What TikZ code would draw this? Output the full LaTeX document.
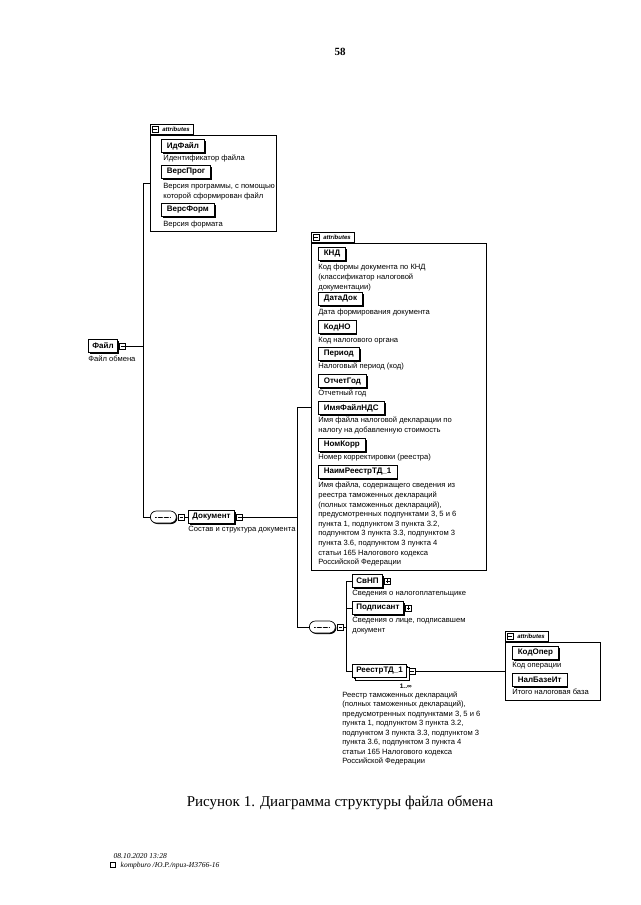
\documentclass[tikz,border=0pt]{standalone}
\usepackage{fontspec}
\setmainfont{Liberation Serif}
\setsansfont{Liberation Sans}
\usetikzlibrary{positioning,shadows,shapes.misc,calc}

\tikzset{
  elem/.style={draw, fill=white, anchor=west, font=\sffamily\bfseries\fontsize{8}{8}\selectfont,
    inner xsep=4pt, inner ysep=0pt, minimum height=13pt,
    general shadow={fill=black, shadow xshift=1.3pt, shadow yshift=-1.3pt}},
  attr/.style={elem, inner xsep=5.5pt},
  manyelem/.style={elem, copy shadow={shadow xshift=2.6pt, shadow yshift=-2.6pt}},
  note/.style={anchor=north west, font=\sffamily\fontsize{7.6}{10}\selectfont, align=left, inner sep=0pt},
  attrbox/.style={draw, fill=white, anchor=north west, inner sep=0pt,
    general shadow={fill=black, shadow xshift=0.8pt, shadow yshift=-0.8pt}},
  attrtab/.style={draw, fill=white, anchor=south west, font=\sffamily\bfseries\itshape\fontsize{6}{6}\selectfont,
    inner xsep=4pt, inner ysep=0pt, minimum height=10pt},
  minusbox/.style={draw, fill=white, minimum size=6pt, inner sep=0pt,
    path picture={\draw ([xshift=1.2pt]path picture bounding box.west) -- ([xshift=-1.2pt]path picture bounding box.east);}},
  plusbox/.style={draw, fill=white, minimum size=6pt, inner sep=0pt,
    path picture={\draw ([xshift=1.2pt]path picture bounding box.west) -- ([xshift=-1.2pt]path picture bounding box.east);
      \draw ([yshift=1.2pt]path picture bounding box.south) -- ([yshift=-1.2pt]path picture bounding box.north);}},
  seqbox/.style={rounded rectangle, draw, fill=white, anchor=west, minimum width=26pt, minimum height=12pt, inner sep=0pt,
    general shadow={fill=black, shadow xshift=1pt, shadow yshift=-1pt},
    path picture={\draw ([xshift=-8pt]path picture bounding box.center) -- ([xshift=8pt]path picture bounding box.center);
      \foreach \d in {-6,0,6} \fill ([xshift=\d pt]path picture bounding box.center) circle (0.9pt);}},
}

\begin{document}
\begin{tikzpicture}[x=1pt, y=-1pt, line width=0.7pt]
  \fill[white] (0,0) rectangle (640,905);
  \useasboundingbox (0,0) rectangle (640,905);

  \node[font=\bfseries\fontsize{11}{12}\selectfont] at (340,52)(pagenum){58};

  % root element
  \node[elem] at (88,346)(fajl){Файл};
  \node[minusbox, right=1.5pt of fajl](fajlx){};
  \node[note] at (88,356)(fajlnote){Файл обмена};

  % attributes of Файл
  \node[attrbox, minimum width=126pt, minimum height=96pt] at (150,135)(attrA){};
  \node[attrtab] at (attrA.north west)(tabA){\hspace{8pt}attributes};
  \node[minusbox, right=1.5pt of tabA.west](tabAx){};
  \node[attr] at (161,146)(idfajl){ИдФайл};
  \node[note] at (163,155)(idfajlnote){Идентификатор файла};
  \node[attr] at (161,172)(versprog){ВерсПрог};
  \node[note] at (163,182.5)(versprognote){Версия программы, с помощью\\которой сформирован файл};
  \node[attr] at (161,210)(versform){ВерсФорм};
  \node[note] at (163,221)(versformnote){Версия формата};

  % Документ
  \node[seqbox] at (150,517)(seqA){};
  \node[minusbox, right=1.5pt of seqA](seqAx){};
  \node[elem] at (188,517)(dok){Документ};
  \node[minusbox, right=1.5pt of dok](dokx){};
  \node[note] at (188,526)(doknote){Состав и структура документа};

  % attributes of Документ
  \node[attrbox, minimum width=175pt, minimum height=327pt] at (311,243)(attrB){};
  \node[attrtab] at (attrB.north west)(tabB){\hspace{8pt}attributes};
  \node[minusbox, right=1.5pt of tabB.west](tabBx){};
  \node[attr] at (318,254)(knd){КНД};
  \node[note] at (318,264)(kndnote){Код формы документа по КНД\\(классификатор налоговой\\документации)};
  \node[attr] at (318,299)(datadok){ДатаДок};
  \node[note] at (318,309)(datadoknote){Дата формирования документа};
  \node[attr] at (318,327)(kodno){КодНО};
  \node[note] at (318,337)(kodnonote){Код налогового органа};
  \node[attr] at (318,354)(period){Период};
  \node[note] at (318,363)(periodnote){Налоговый период (код)};
  \node[attr] at (318,381)(otchgod){ОтчетГод};
  \node[note] at (318,390)(otchgodnote){Отчетный год};
  \node[attr] at (318,408)(imjafajl){ИмяФайлНДС};
  \node[note] at (318,417)(imjafajlnote){Имя файла налоговой декларации по\\налогу на добавленную стоимость};
  \node[attr] at (318,445)(nomkorr){НомКорр};
  \node[note] at (318,454)(nomkorrnote){Номер корректировки (реестра)};
  \node[attr] at (318,472)(naimreestr){НаимРеестрТД\_1};
  \node[note, font=\sffamily\fontsize{7.6}{9.6}\selectfont] at (318,482)(naimreestrnote){Имя файла, содержащего сведения из\\реестра таможенных деклараций\\(полных таможенных деклараций),\\предусмотренных подпунктами 3, 5 и 6\\пункта 1, подпунктом 3 пункта 3.2,\\подпунктом 3 пункта 3.3, подпунктом 3\\пункта 3.6, подпунктом 3 пункта 4\\статьи 165 Налогового кодекса\\Российской Федерации};

  % children of Документ
  \node[seqbox] at (309,627)(seqB){};
  \node[minusbox, right=1.5pt of seqB](seqBx){};
  \node[elem] at (352,581)(svnp){СвНП};
  \node[plusbox, right=1.5pt of svnp](svnpx){};
  \node[note] at (352,590)(svnpnote){Сведения о налогоплательщике};
  \node[elem] at (352,608)(podp){Подписант};
  \node[plusbox, right=1.5pt of podp](podpx){};
  \node[note] at (352,617)(podpnote){Сведения о лице, подписавшем\\документ};
  \node[manyelem] at (352,671)(reestr){РеестрТД\_1};
  \node[minusbox, right=1.5pt of reestr](reestrx){};
  \node[font=\sffamily\bfseries\fontsize{6.5}{7}\selectfont, anchor=north east] at (reestrx.south east |- 0,680)(reestrmult){1..∞};
  \node[note, font=\sffamily\fontsize{7.6}{9.5}\selectfont] at (342,691)(reestrnote){Реестр таможенных деклараций\\(полных таможенных деклараций),\\предусмотренных подпунктами 3, 5 и 6\\пункта 1, подпунктом 3 пункта 3.2,\\подпунктом 3 пункта 3.3, подпунктом 3\\пункта 3.6, подпунктом 3 пункта 4\\статьи 165 Налогового кодекса\\Российской Федерации};

  % attributes of РеестрТД_1
  \node[attrbox, minimum width=95pt, minimum height=58pt] at (505,642)(attrC){};
  \node[attrtab] at (attrC.north west)(tabC){\hspace{8pt}attributes};
  \node[minusbox, right=1.5pt of tabC.west](tabCx){};
  \node[attr] at (512,653)(kodoper){КодОпер};
  \node[note] at (512,662)(kodopernote){Код операции};
  \node[attr] at (512,680)(nalbaze){НалБазеИт};
  \node[note] at (512,689)(nalbazenote){Итого налоговая база};

  % connectors
  \coordinate (busA) at (143,0);
  \coordinate (busB) at (297,0);
  \coordinate (busC) at (346,0);
  \draw (fajlx.east) -- (fajlx.east -| busA);
  \draw (attrA.west) -| (busA |- seqA.west) -- (seqA.west);
  \draw (seqAx.east) -- (dok.west);
  \draw (dokx.east) -- (dokx.east -| busB);
  \draw (attrB.west) -| (busB |- seqB.west) -- (seqB.west);
  \draw (seqBx.east) -- (seqBx.east -| busC);
  \draw (svnp.west) -| (busC |- reestr.west) -- (reestr.west);
  \draw (podp.west) -- (podp.west -| busC);
  \draw (reestrx.east) -- (attrC.west |- reestrx.east);

  \node[font=\fontsize{15}{17}\selectfont] at (340,803)(title){Рисунок 1. Диаграмма структуры файла обмена};

  \node[anchor=base west, font=\itshape\fontsize{7.5}{8}\selectfont] at (110,858)(stamp){08.10.2020 13:28};
  \node[draw, line width=0.4pt, minimum width=5pt, minimum height=4.5pt, inner sep=0pt, anchor=south west] at (110,867)(stampicon){};
  \node[anchor=base west, font=\itshape\fontsize{7.5}{8}\selectfont] at (117,867)(stampuser){kompburo /Ю.Р./приз-И3766-16};
\end{tikzpicture}
\end{document}
